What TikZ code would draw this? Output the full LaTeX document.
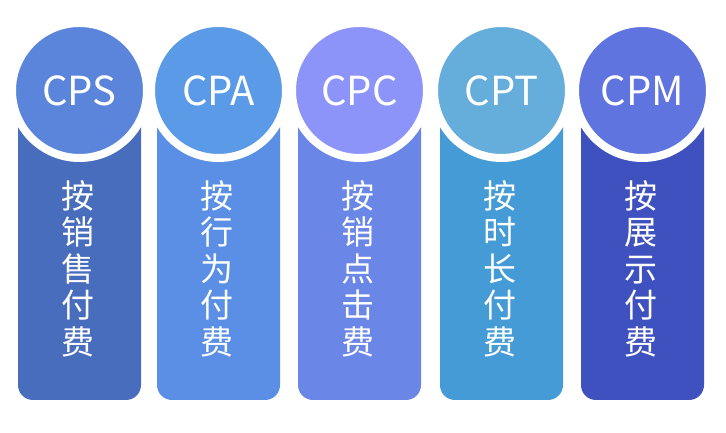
\documentclass[tikz,border=0pt]{standalone}
\usepackage{fontspec}
\setmainfont{Noto Sans CJK SC}
\newfontfamily\cjk{Noto Sans CJK SC}
\definecolor{ca}{HTML}{5B85DB}\definecolor{ra}{HTML}{486DBD}
\definecolor{cb}{HTML}{5A9AE6}\definecolor{rb}{HTML}{5A8FE5}
\definecolor{cc}{HTML}{8C94F9}\definecolor{rc}{HTML}{6A86E6}
\definecolor{cd}{HTML}{65ADDB}\definecolor{rd}{HTML}{449BD5}
\definecolor{ce}{HTML}{5F74DE}\definecolor{re}{HTML}{3F51BF}
\tikzset{
  colbox/.style={rectangle, rounded corners=15pt, minimum width=123pt, minimum height=290pt, inner sep=0pt},
  topcircle/.style={circle, draw=white, line width=8pt, minimum size=135pt, inner sep=0pt, text=white, font=\cjk\fontsize{40}{42}\selectfont},
  vlabel/.style={text=white, align=center, inner sep=0pt, font=\cjk\fontsize{33}{36.5}\selectfont}
}
\begin{document}
\begin{tikzpicture}[x=1pt,y=1pt]
\useasboundingbox (0,0) rectangle (726,433);
\foreach \x/\cn/\rn/\lab/\txt/\id in {
  79.5/ca/ra/CPS/{按\\销\\售\\付\\费}/1,
  218.5/cb/rb/CPA/{按\\行\\为\\付\\费}/2,
  359.5/cc/rc/CPC/{按\\销\\点\\击\\费}/3,
  501.5/cd/rd/CPT/{按\\时\\长\\付\\费}/4,
  642.5/ce/re/CPM/{按\\展\\示\\付\\费}/5}{
  \node[colbox, fill=\rn] (r\id) at (\x,178) {};
  \node[topcircle, fill=\cn] (c\id) at (\x,342.5) {\lab};
  \node[vlabel] (t\id) at (\x-2,164.5) {\txt};
}
\end{tikzpicture}
\end{document}
